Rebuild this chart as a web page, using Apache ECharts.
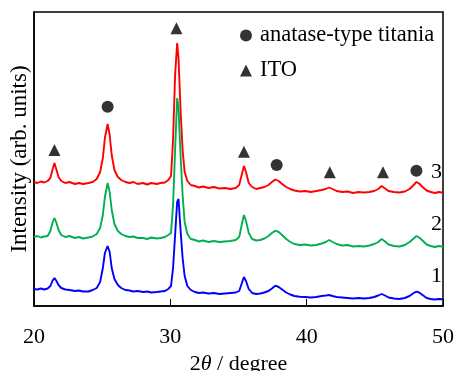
<!DOCTYPE html>
<html>
<head>
<meta charset="utf-8">
<script src="https://cdn.jsdelivr.net/npm/echarts@6/dist/echarts.min.js"></script>
<style>
  html, body { margin: 0; padding: 0; background: #fff; }
  #chart { width: 455px; height: 371px; }
</style>
</head>
<body>
<div id="chart"></div>
<script>
// 2theta grid (degree), shared by the three patterns
const twoTheta = [
  20.0, 20.25, 20.5, 20.75, 21.0, 21.2, 21.35, 21.5, 21.65, 21.8,
  22.0, 22.3, 22.6, 23.0, 23.3, 23.6, 24.0, 24.3, 24.6, 24.85,
  25.05, 25.2, 25.4, 25.55, 25.7, 25.9, 26.15, 26.4, 26.7, 27.0,
  27.3, 27.6, 28.0, 28.3, 28.6, 29.0, 29.3, 29.6, 29.85, 30.05,
  30.2, 30.35, 30.5, 30.6, 30.75, 30.9, 31.05, 31.25, 31.5, 31.8,
  32.1, 32.4, 32.8, 33.2, 33.6, 34.0, 34.4, 34.8, 35.05, 35.25,
  35.4, 35.55, 35.75, 36.0, 36.3, 36.6, 36.9, 37.2, 37.45, 37.7,
  37.95, 38.2, 38.5, 38.8, 39.1, 39.5, 39.9, 40.3, 40.7, 41.1,
  41.4, 41.65, 41.9, 42.2, 42.6, 43.0, 43.4, 43.8, 44.2, 44.6,
  44.95, 45.25, 45.5, 45.75, 46.0, 46.4, 46.8, 47.2, 47.55, 47.85,
  48.05, 48.25, 48.5, 48.8, 49.1, 49.4, 49.7, 50.0
];

// pattern 3 (red, top)
const sample3 = [
  124, 123, 124.5, 123.5, 125, 128, 136, 143, 136, 129,
  125, 123, 124, 122, 123, 122, 123, 124, 127, 134,
  148, 168, 182, 171, 151, 136, 129, 126, 124, 123,
  124, 122, 123, 121.5, 123, 122, 123, 123.5, 126, 130,
  166, 231, 263, 248, 196, 156, 134, 125, 121, 120,
  118.5, 119.5, 118, 119, 117.5, 118, 117, 118, 121, 132,
  140, 134, 123, 119, 117, 118, 119, 121, 124, 126.5,
  125, 122, 119, 117, 115.5, 114.5, 115, 114, 115, 116,
  117, 118.5, 117, 115, 114, 114.5, 113, 114, 113.5, 114,
  115, 117, 120, 117.5, 115, 114, 113.5, 114.5, 117, 121,
  124, 122.5, 119, 115.5, 114, 113, 114, 113.3
];

// pattern 2 (green, middle)
const sample2 = [
  69, 70, 68.5, 69.5, 70, 75, 83, 88, 83, 76,
  71, 69, 70, 68, 69, 67.5, 68.5, 69.5, 72, 78,
  91, 109, 123, 114, 96, 82, 75, 72, 70, 69,
  69.5, 68, 68, 67, 68.5, 67.5, 68, 69, 71, 73,
  101, 156, 208, 198, 151, 111, 84, 72, 67, 66,
  64.5, 65.5, 64, 65, 64, 64.5, 65, 66, 69, 82,
  91, 85, 73, 67, 65.5, 66, 67.5, 70, 73, 75.3,
  74, 71, 67, 64, 62, 61, 61.5, 60.5, 61, 62.5,
  64, 66, 64, 62, 60.5, 61, 59.5, 60, 59.5, 60.5,
  62, 64, 67, 64.5, 61.5, 60, 59.5, 61, 64, 67.5,
  70, 68.5, 65.5, 61.5, 60, 59, 60, 59.3
];

// pattern 1 (blue, bottom)
const sample1 = [
  17, 16.5, 17.5, 16.5, 17.5, 20, 25, 28, 25, 21,
  18, 16.5, 16, 15, 15.5, 14.5, 14.5, 16, 18, 24,
  38, 53, 60, 54, 38, 27, 21, 18, 16, 15.5,
  14.5, 15, 14, 14.5, 13.5, 14, 14.5, 15, 17, 20,
  38, 71, 104, 107, 76, 48, 30, 20, 16, 14,
  13, 13.5, 12.5, 13, 12, 12.5, 13, 13.5, 15, 23,
  29, 25, 17, 13, 12, 12.5, 13.5, 15, 17.5, 20.3,
  19, 16.5, 13.5, 11.5, 10, 9.3, 9, 8.5, 9, 10,
  10.5, 11, 10, 9, 8.5, 8, 7.5, 8, 7.5, 8,
  9, 10.5, 12, 10.5, 8.5, 7.5, 7, 8, 10, 13,
  14.3, 13.5, 11, 8, 7, 6.5, 7, 6.7
];

// peak markers: [2theta, height]
const itoPeaks = [[21.5, 156], [30.45, 277.7], [35.4, 154.3], [41.7, 133.7], [45.6, 133.7]];
const anatasePeaks = [[25.4, 199.3], [37.8, 141], [48.05, 135.3]];

const xTicks = [20, 30, 40, 50];
const curveLabels = ['3', '2', '1'];

const pair = (ys) => twoTheta.map((x, i) => [x, ys[i]]);

const chart = echarts.init(document.getElementById('chart'));
const serif = 'Liberation Serif, Times New Roman, serif';

const option = {
  animation: false,
  grid: {
    left: 34, right: 12, top: 12, bottom: 65,
    outerBoundsMode: 'none',
    show: true, borderColor: '#000', borderWidth: 1.5
  },
  legend: {
    orient: 'vertical',
    left: 240, top: 24, padding: 0,
    itemWidth: 12, itemHeight: 12, itemGap: 12,
    textStyle: { fontFamily: serif, fontSize: 22.5, color: '#000', padding: [0, 0, 0, 3] },
    data: ['anatase-type titania', 'ITO']
  },
  xAxis: {
    type: 'value', min: 20, max: 50, interval: 10,
    axisLine: { lineStyle: { color: '#000', width: 1.5 } },
    axisTick: { inside: true, length: 7, lineStyle: { color: '#000', width: 1 } },
    axisLabel: {
      fontFamily: serif, fontSize: 22, color: '#000', margin: 20,
      formatter: (v) => (xTicks.indexOf(v) >= 0 ? String(v) : '')
    },
    splitLine: { show: false },
    name: '{n|2}{i|θ}{n| / degree}',
    nameLocation: 'middle', nameGap: 41,
    nameTextStyle: {
      rich: {
        n: { fontFamily: serif, fontSize: 22, color: '#000' },
        i: { fontFamily: serif, fontSize: 22, color: '#000', fontStyle: 'italic' }
      }
    }
  },
  yAxis: {
    type: 'value', min: 0, max: 294,
    axisLine: { show: true, lineStyle: { color: '#000', width: 1.5 } },
    axisTick: { show: false },
    axisLabel: { show: false },
    splitLine: { show: false },
    name: 'Intensity (arb. units)',
    nameLocation: 'middle', nameGap: 3,
    nameTextStyle: { fontFamily: serif, fontSize: 23, color: '#000' }
  },
  series: [
    { name: '3', type: 'line', data: pair(sample3), showSymbol: false, silent: true,
      lineStyle: { color: '#ff0000', width: 1.9 } },
    { name: '2', type: 'line', data: pair(sample2), showSymbol: false, silent: true,
      lineStyle: { color: '#00b050', width: 1.9 } },
    { name: '1', type: 'line', data: pair(sample1), showSymbol: false, silent: true,
      lineStyle: { color: '#0000ff', width: 1.9 } },
    { name: 'anatase-type titania', type: 'scatter', data: anatasePeaks,
      symbol: 'circle', symbolSize: 12, itemStyle: { color: '#000' } },
    { name: 'ITO', type: 'scatter', data: itoPeaks,
      symbol: 'triangle', symbolSize: 12, itemStyle: { color: '#000' } }
  ],
  graphic: curveLabels.map((t, i) => ({
    type: 'text', right: 13, top: [161, 213, 265][i],
    style: { text: t, fontFamily: serif, fontSize: 22, fill: '#000' }
  }))
};

chart.setOption(option);
</script>
</body>
</html>
